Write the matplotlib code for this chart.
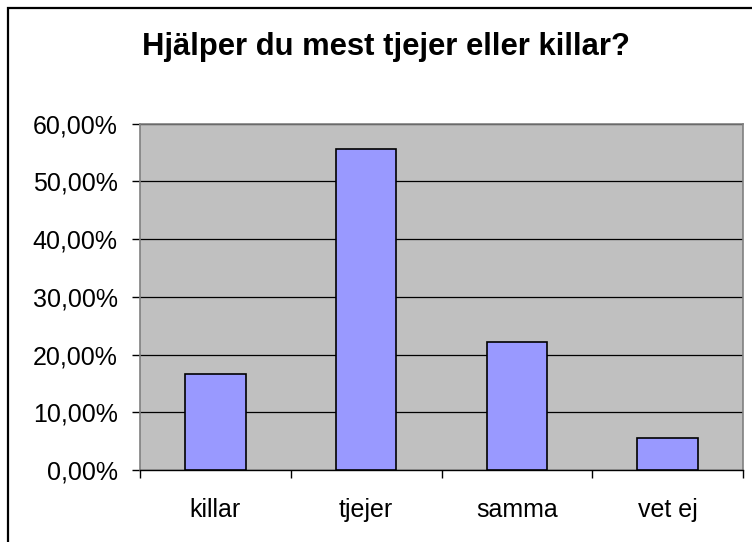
import matplotlib.pyplot as plt
import numpy as np
from matplotlib.patches import Rectangle
from matplotlib.ticker import FuncFormatter

categories = ["killar", "tjejer", "samma", "vet ej"]
shares = [16.67, 55.56, 22.22, 5.56]
y_ticks = [0, 10, 20, 30, 40, 50, 60]

plt.rcParams["font.family"] = ["Liberation Sans", "DejaVu Sans"]

fig = plt.figure(figsize=(7.52, 5.42), dpi=100)
W, H = 752, 542
ax = fig.add_axes([140 / W, 1 - 470 / H, (743 - 140) / W, (470 - 123.5) / H])
ax.set_facecolor("#C0C0C0")

x = np.arange(len(categories))
ax.bar(x, shares, width=0.4, color="#9999FF", edgecolor="black", linewidth=1.2, zorder=3)

ax.set_xlim(-0.5, len(categories) - 0.5)
ax.set_ylim(0, 60)
ax.set_yticks(y_ticks)
ax.yaxis.set_major_formatter(FuncFormatter(lambda v, _: f"{v:.2f}".replace(".", ",") + "%"))
ax.grid(axis="y", color="black", linewidth=0.9, zorder=1)

ax.set_xticks(x)
ax.set_xticklabels(categories)
ax.set_xticks(np.arange(len(categories) + 1) - 0.5, minor=True)
ax.tick_params(axis="x", which="major", length=0, pad=20, labelsize=18)
ax.tick_params(axis="x", which="minor", length=6, width=1, color="black")
ax.tick_params(axis="y", length=6, width=1, labelsize=18, pad=10)

for side in ["left", "top", "right"]:
    ax.spines[side].set_color("#808080")
    ax.spines[side].set_linewidth(1.2)
ax.spines["bottom"].set_color("black")
ax.spines["bottom"].set_linewidth(1)

fig.text(386 / W, 1 - 47 / H, "Hjälper du mest tjejer eller killar?",
         ha="center", va="center", fontsize=22.3, fontweight="bold")

# outer chart border (cut off at right and bottom)
fig.add_artist(Rectangle((7.5 / W, -0.1), 1.2, 1 - 7.5 / H + 0.1,
                         transform=fig.transFigure, fill=False,
                         edgecolor="black", linewidth=1.6))

fig.savefig("out.png", dpi=100)
